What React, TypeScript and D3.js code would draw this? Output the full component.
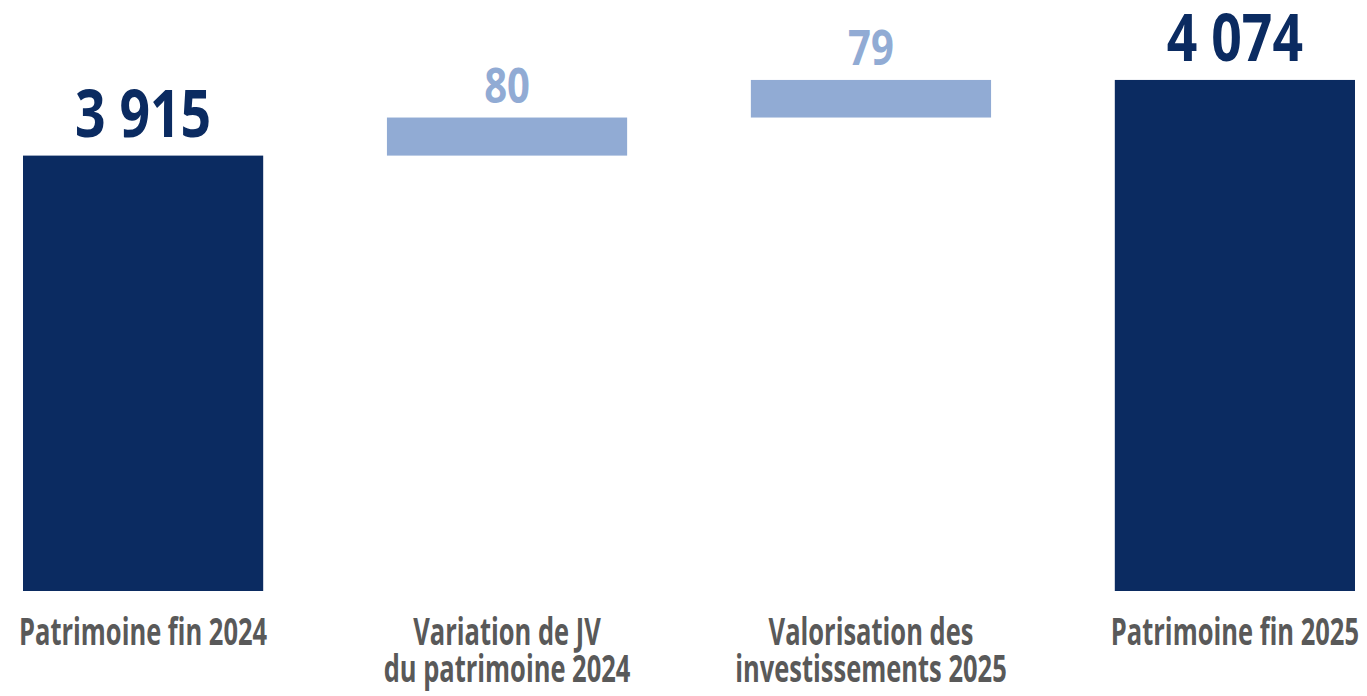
import React from "react";
import * as d3 from "d3";

const categories: string[][] = [
  ["Patrimoine fin 2024"],
  ["Variation de JV", "du patrimoine 2024"],
  ["Valorisation des", "investissements 2025"],
  ["Patrimoine fin 2025"],
];
const values: number[] = [3915, 80, 79, 4074];
const kinds: string[] = ["total", "delta", "delta", "total"];
const valueLabels: string[] = ["3 915", "80", "79", "4 074"];

const W = 1367;
const H = 696;
const DARK = "#0B2B61";
const LIGHT = "#91ABD4";
const GRAY = "#595959";
const FONT = "'Open Sans', sans-serif";

export default function App() {
  const x = d3
    .scaleBand<number>()
    .domain(d3.range(values.length))
    .range([23, 1355])
    .paddingInner(0.34)
    .paddingOuter(0);
  const y = d3.scaleLinear().domain([3000, 4242]).range([591, 0]);

  let running = 0;
  const bars = values.map((v, i) => {
    let lo: number, hi: number;
    if (kinds[i] === "total") {
      lo = 3000;
      hi = v;
      running = v;
    } else {
      lo = running;
      hi = running + v;
      running = hi;
    }
    return { i, lo, hi, kind: kinds[i] };
  });

  return (
    <svg
      width={W}
      height={H}
      style={{ position: "absolute", left: 0, top: 0, background: "#fff" }}
    >
      {bars.map((b) => {
        const x0 = x(b.i)!;
        const bw = x.bandwidth();
        const top = y(b.hi);
        const bottom = y(b.lo);
        const isTotal = b.kind === "total";
        const fs = isTotal ? 54 : 40;
        const gap = isTotal ? 19 : 15;
        const sx = isTotal ? 0.99 : 1.0;
        const sy = isTotal ? 1.24 : 1.2;
        return (
          <g key={b.i}>
            <rect
              x={x0}
              y={top}
              width={bw}
              height={bottom - top}
              fill={isTotal ? DARK : LIGHT}
            />
            <text
              transform={`translate(${x0 + bw / 2},${top - gap}) scale(${sx},${sy})`}
              textAnchor="middle"
              fontFamily={FONT}
              fontWeight={700}
              fontSize={fs}
              fill={isTotal ? DARK : LIGHT}
            >
              {valueLabels[b.i]}
            </text>
            {categories[b.i].map((line, k) => (
              <text
                key={k}
                transform={`translate(${x0 + bw / 2},${645 + k * 37}) scale(0.85,1.23)`}
                textAnchor="middle"
                fontFamily={FONT}
                fontWeight={700}
                fontSize={30}
                fill={GRAY}
              >
                {line}
              </text>
            ))}
          </g>
        );
      })}
    </svg>
  );
}
